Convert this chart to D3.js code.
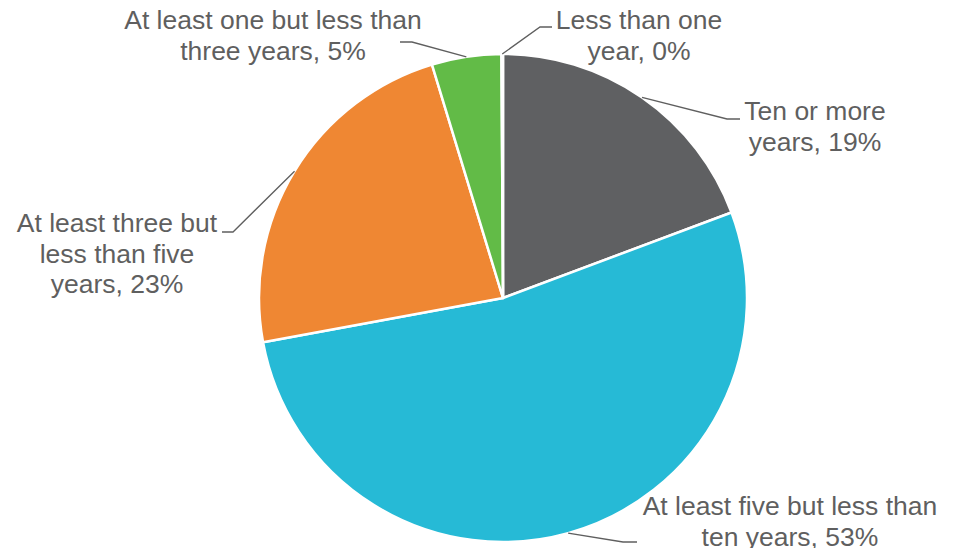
<!DOCTYPE html>
<html>
<head>
<meta charset="utf-8">
<script src="https://cdn.jsdelivr.net/npm/d3@7"></script>
<style>
  html, body { margin: 0; padding: 0; background: #fff; }
  svg { display: block; }
  text { font-family: "Liberation Sans", Arial, sans-serif; }
</style>
</head>
<body>
<script>
// slices, clockwise from 12 o'clock
var categories = [
  'Ten or more years',
  'At least five but less than ten years',
  'At least three but less than five years',
  'At least one but less than three years',
  'Less than one year'
]
var values = [19.3, 52.8, 23.2, 4.6, 0.1]
var colors = ['#5f6062', '#26bad6', '#ef8733', '#62bb47', '#a5a5a5']

// how each label breaks into lines
var labelLines = [
  ['Ten or more', 'years, '],
  ['At least five but less than', 'ten years, '],
  ['At least three but', 'less than five', 'years, '],
  ['At least one but less than', 'three years, '],
  ['Less than one', 'year, ']
]

var W = 954
  , H = 548
  , cx = 503
  , cy = 298
  , r = 244
  , lineH = 30.5

// label placement: text centre x, first baseline y, leader knee and end
var labelPos = [
  { x: 815, y: 120, knee: [727, 119], end: 740 },
  { x: 790, y: 515, knee: [623, 542], end: 637 },
  { x: 117, y: 232, knee: [233, 232], end: 222 },
  { x: 273, y: 29,  knee: [412, 42],  end: 400 },
  { x: 639, y: 29,  knee: [540, 27],  end: 552 }
]

var svg = d3.select('body')
  .append('svg')
  .attr('width', W)
  .attr('height', H)

var pie = d3.pie().sort(null).value(function(d) { return d })
  , arcs = pie(values)
  , arc = d3.arc().innerRadius(0).outerRadius(r)
  , edge = d3.arc().innerRadius(r).outerRadius(r)

var g = svg.append('g').attr('transform', 'translate(' + cx + ',' + cy + ')')

g.selectAll('path.slice').data(arcs).enter()
  .append('path')
  .attr('class', 'slice')
  .attr('d', arc)
  .attr('fill', function(d, i) { return colors[i] })
  .attr('stroke', '#fff')
  .attr('stroke-width', 2.5)
  .attr('stroke-linejoin', 'round')

// leader lines
svg.selectAll('polyline.leader').data(arcs).enter()
  .append('polyline')
  .attr('class', 'leader')
  .attr('points', function(d, i) {
    var c = edge.centroid(d)
      , p = labelPos[i]
    return [[cx + c[0], cy + c[1]], p.knee, [p.end, p.knee[1]]].map(function(q) { return q.join(',') }).join(' ')
  })
  .attr('fill', 'none')
  .attr('stroke', '#5f5f5f')
  .attr('stroke-width', 1.3)

// labels
var labels = svg.selectAll('text.lbl').data(arcs).enter()
  .append('text')
  .attr('class', 'lbl')
  .attr('text-anchor', 'middle')
  .attr('font-size', '26.5px')
  .attr('fill', '#5f5f5f')

labels.each(function(d, i) {
  var t = d3.select(this)
    , lines = labelLines[i]
    , p = labelPos[i]
  lines.forEach(function(s, j) {
    if (j === lines.length - 1) s = s + Math.round(values[i]) + '%'
    t.append('tspan')
      .attr('x', p.x)
      .attr('y', p.y + j * lineH)
      .text(s)
  })
})
</script>
</body>
</html>
